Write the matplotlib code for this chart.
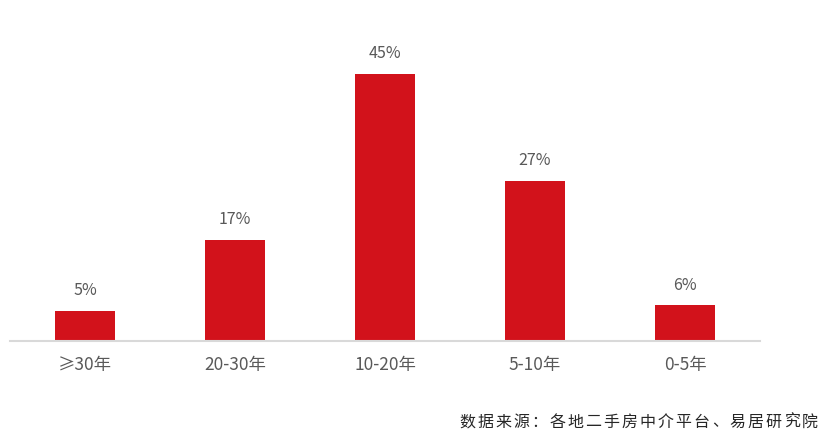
import matplotlib
matplotlib.use("Agg")
import matplotlib.pyplot as plt

plt.rcParams['font.family'] = ['Noto Sans CJK SC', 'DejaVu Sans']

categories = ["≥30年", "20-30年", "10-20年", "5-10年", "0-5年"]
values = [5, 17, 45, 27, 6]
labels = ["5%", "17%", "45%", "27%", "6%"]
source = "数据来源：各地二手房中介平台、易居研究院"

W, H = 833, 442
fig = plt.figure(figsize=(W/100, H/100), dpi=100)
ax = fig.add_axes([10/W, (H-341)/H, 750/W, (341-44.5)/H])
x = range(len(categories))
bars = ax.bar(x, values, width=0.4, color="#D2121B", zorder=2)
ax.set_xlim(-0.5, 4.5)
ax.set_ylim(0, 50)
for b, lab in zip(bars, labels):
    ax.text(b.get_x()+b.get_width()/2, b.get_height()+2.0, lab, ha='center', va='bottom',
            fontsize=11.5, color="#595959")
ax.set_xticks(list(x))
ax.set_xticklabels(categories, fontsize=12.5, color="#595959")
ax.tick_params(axis='x', length=0, pad=11)
ax.set_yticks([])
for s in ['top', 'right', 'left']:
    ax.spines[s].set_visible(False)
ax.spines['bottom'].set_color("#D9D9D9")
ax.spines['bottom'].set_linewidth(1.5)

# source text with letter spacing
n = len(source)
x0, x1 = 467, 810
for i, ch in enumerate(source):
    xp = x0 + (x1 - x0) * i / (n - 1)
    fig.text(xp/W, (H-422)/H, ch, ha='center', va='center', fontsize=11.5, color="#262626")

fig.savefig("out.png", dpi=100)
